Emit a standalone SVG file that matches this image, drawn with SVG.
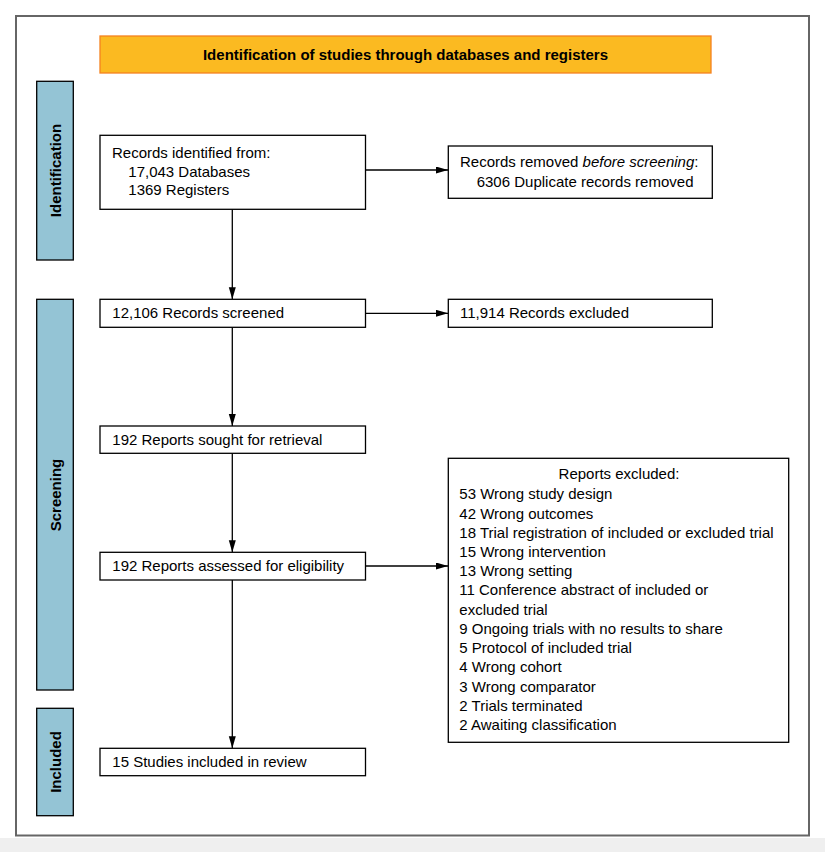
<svg xmlns="http://www.w3.org/2000/svg" width="825" height="852" viewBox="0 0 825 852">
<defs>
<style>
.t{font-family:"Liberation Sans",Arial,sans-serif;font-size:15px;fill:#000}
.b{font-weight:bold}
.box{fill:#fff;stroke:#000;stroke-width:1.3}
.side{fill:#94C4D5;stroke:#000;stroke-width:1.3}
.con{stroke:#000;stroke-width:1.3;fill:none}
</style>
<marker id="ah" markerUnits="userSpaceOnUse" markerWidth="12" markerHeight="8" refX="12" refY="3.5" orient="auto">
<path d="M0,0 L12,3.5 L0,7 z" fill="#000"/>
</marker>
</defs>
<rect x="0" y="0" width="825" height="852" fill="#fff"/>
<rect x="0" y="838" width="825" height="14" fill="#efefef"/>
<rect x="16" y="16" width="793" height="819.5" fill="#fff" stroke="#666" stroke-width="2"/>

<g id="header">
<rect x="100" y="36" width="611" height="37" fill="#FBBA21" stroke="#F5821F" stroke-width="1.3"/>
<text class="t b" x="405.5" y="60" text-anchor="middle">Identification of studies through databases and registers</text>
</g>

<g id="side-identification">
<rect class="side" x="36.7" y="81.3" width="36.6" height="178.7"/>
<text class="t b" transform="translate(60.5,170.5) rotate(-90)" text-anchor="middle">Identification</text>
</g>
<g id="side-screening">
<rect class="side" x="36.7" y="299.3" width="36.6" height="390.7"/>
<text class="t b" transform="translate(60.5,495) rotate(-90)" text-anchor="middle">Screening</text>
</g>
<g id="side-included">
<rect class="side" x="36.7" y="708.3" width="36.6" height="107.4"/>
<text class="t b" transform="translate(60.5,762) rotate(-90)" text-anchor="middle">Included</text>
</g>

<g id="connectors">
<line class="con" x1="365.5" y1="170" x2="448" y2="170" marker-end="url(#ah)"/>
<line class="con" x1="232.3" y1="209.3" x2="232.3" y2="299.3" marker-end="url(#ah)"/>
<line class="con" x1="365.5" y1="313.3" x2="448" y2="313.3" marker-end="url(#ah)"/>
<line class="con" x1="232.3" y1="327.3" x2="232.3" y2="426" marker-end="url(#ah)"/>
<line class="con" x1="232.3" y1="453.3" x2="232.3" y2="552.3" marker-end="url(#ah)"/>
<line class="con" x1="365.5" y1="566" x2="448" y2="566" marker-end="url(#ah)"/>
<line class="con" x1="232.3" y1="580" x2="232.3" y2="748.3" marker-end="url(#ah)"/>
</g>

<g id="records-identified">
<rect class="box" x="100" y="135.3" width="265.5" height="74"/>
<text class="t" x="112" y="158.3">Records identified from:</text>
<text class="t" x="128.3" y="176.7">17,043 Databases</text>
<text class="t" x="128.3" y="195">1369 Registers</text>
</g>

<g id="records-removed">
<rect class="box" x="448.3" y="146" width="264" height="52.3"/>
<text class="t" x="460" y="166.7">Records removed <tspan font-style="italic">before screening</tspan>:</text>
<text class="t" x="476.7" y="186.7">6306 Duplicate records removed</text>
</g>

<g id="records-screened">
<rect class="box" x="100" y="299.3" width="265.5" height="28"/>
<text class="t" x="112.3" y="317.7">12,106 Records screened</text>
</g>

<g id="records-excluded">
<rect class="box" x="448.3" y="299.3" width="264" height="28"/>
<text class="t" x="460" y="317.7">11,914 Records excluded</text>
</g>

<g id="reports-sought">
<rect class="box" x="100" y="426" width="265.5" height="27.3"/>
<text class="t" x="112.3" y="445">192 Reports sought for retrieval</text>
</g>

<g id="reports-assessed">
<rect class="box" x="100" y="552.3" width="265.5" height="27.7"/>
<text class="t" x="112.3" y="571.3">192 Reports assessed for eligibility</text>
</g>

<g id="reports-excluded">
<rect class="box" x="448.3" y="458.3" width="340.4" height="284"/>
<text class="t" x="619" y="479.3" text-anchor="middle">Reports excluded:</text>
<text class="t" x="459.3" y="499.3">53 Wrong study design</text>
<text class="t" x="459.3" y="518.5">42 Wrong outcomes</text>
<text class="t" x="459.3" y="537.7">18 Trial registration of included or excluded trial</text>
<text class="t" x="459.3" y="556.9">15 Wrong intervention</text>
<text class="t" x="459.3" y="576.2">13 Wrong setting</text>
<text class="t" x="459.3" y="595.4">11 Conference abstract of included or</text>
<text class="t" x="459.3" y="614.6">excluded trial</text>
<text class="t" x="459.3" y="633.8">9 Ongoing trials with no results to share</text>
<text class="t" x="459.3" y="653">5 Protocol of included trial</text>
<text class="t" x="459.3" y="672.3">4 Wrong cohort</text>
<text class="t" x="459.3" y="691.5">3 Wrong comparator</text>
<text class="t" x="459.3" y="710.7">2 Trials terminated</text>
<text class="t" x="459.3" y="730">2 Awaiting classification</text>
</g>

<g id="studies-included">
<rect class="box" x="100" y="748.3" width="265.5" height="27.4"/>
<text class="t" x="112.3" y="766.5">15 Studies included in review</text>
</g>
</svg>
